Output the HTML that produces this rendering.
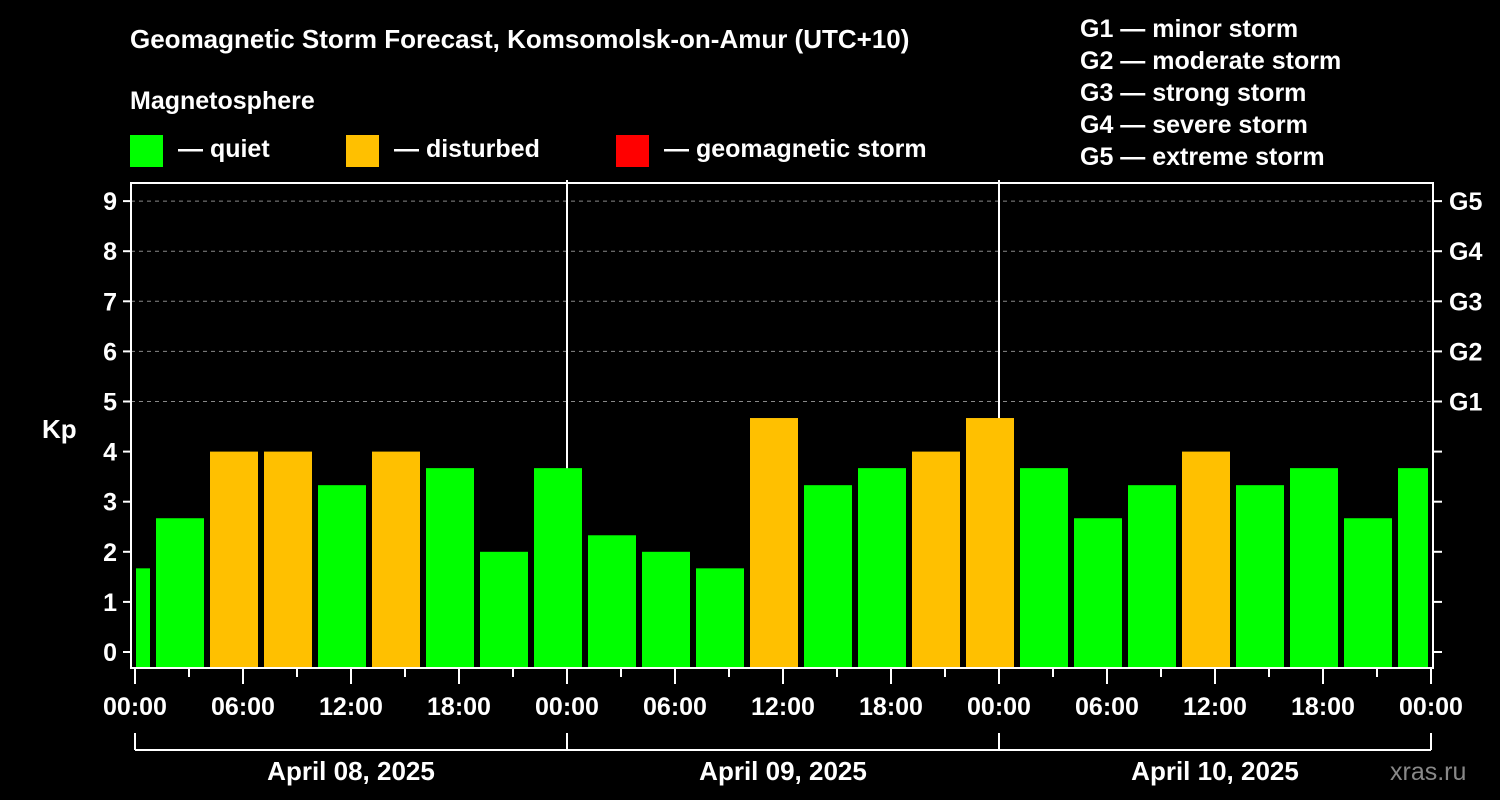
<!DOCTYPE html>
<html><head><meta charset="utf-8"><style>
html,body{margin:0;padding:0;background:#000;}
svg{display:block;font-family:"Liberation Sans",Arial,sans-serif;font-weight:bold;}
</style></head><body>
<svg id="chart" width="1500" height="800" viewBox="0 0 1500 800" xmlns="http://www.w3.org/2000/svg">
<rect width="1500" height="800" fill="#000"/>
<text x="130" y="48" fill="#fff" font-size="26">Geomagnetic Storm Forecast, Komsomolsk-on-Amur (UTC+10)</text>
<text x="130" y="109" fill="#fff" font-size="25">Magnetosphere</text>
<g><rect x="130" y="135" width="33" height="32" fill="#00ff00"/><text x="178" y="157" fill="#fff" font-size="25">— quiet</text></g>
<g><rect x="346" y="135" width="33" height="32" fill="#ffc000"/><text x="394" y="157" fill="#fff" font-size="25">— disturbed</text></g>
<g><rect x="616" y="135" width="33" height="32" fill="#ff0000"/><text x="664" y="157" fill="#fff" font-size="25">— geomagnetic storm</text></g>
<g fill="#fff" font-size="25">
<text x="1080" y="37">G1 — minor storm</text>
<text x="1080" y="69">G2 — moderate storm</text>
<text x="1080" y="101">G3 — strong storm</text>
<text x="1080" y="133">G4 — severe storm</text>
<text x="1080" y="165">G5 — extreme storm</text>
</g>
<text x="42" y="438" fill="#fff" font-size="26">Kp</text>
<text x="1390" y="780" fill="#888" font-size="25" font-weight="normal">xras.ru</text>
<g id="grid"></g><g id="bars"></g><g id="axes"></g>
</svg>
<script>
const kpValues = [1.67,2.67,4,4,3.33,4,3.67,2,3.67, 2.33,2,1.67,4.67,3.33,3.67,4,4.67, 3.67,2.67,3.33,4,3.33,3.67,2.67,3.67];
const kpStatus = ['q','q','d','d','q','d','q','q','q', 'q','q','q','d','q','q','d','d', 'q','q','q','d','q','q','q','q'];
const hourTickLabels = ['00:00','06:00','12:00','18:00'];
const dayLabels = ['April 08, 2025','April 09, 2025','April 10, 2025'];
const yTicks = [0,1,2,3,4,5,6,7,8,9];
const gLabels = ['G1','G2','G3','G4','G5'];

const NS='http://www.w3.org/2000/svg';
const PL=131, PR=1433, PT=183, PB=668;
const x = h => 135 + h*18;
const y = v => 652 - v*50.1;
const colors = {q:'#00ff00', d:'#ffc000', s:'#ff0000'};
function mk(tag, attrs, parent){const e=document.createElementNS(NS,tag);for(const k in attrs)e.setAttribute(k,attrs[k]);parent.appendChild(e);return e;}
const grid=document.getElementById('grid'), bars=document.getElementById('bars'), axes=document.getElementById('axes');

// gridlines at G levels
for(let v=5; v<=9; v++){
  const l=mk('line',{x1:PL,x2:PR,y1:y(v),y2:y(v),stroke:'#888','stroke-width':1,'stroke-dasharray':'4,4'},grid);
  
  
}
// day separators
for(let d=1; d<3; d++){
  const l=mk('line',{x1:x(d*24),x2:x(d*24),y1:PT-3,y2:PB,stroke:'#fff','stroke-width':2},grid);
  
  
}
// bars
kpValues.forEach((v,i)=>{
  const c = -0.5 + 3*i;
  let x0 = x(c) - 24, x1 = x(c) + 24;
  x0 = Math.max(x0, x(0)+1); x1 = Math.min(x1, x(72)-3);
  const r=mk('rect',{x:x0,y:y(v),width:x1-x0,height:PB-1-y(v),fill:colors[kpStatus[i]]},bars);
  
  
});
// frame
const f=mk('rect',{x:PL,y:PT,width:PR-PL,height:PB-PT,fill:'none',stroke:'#fff','stroke-width':2},axes);


// y ticks
yTicks.forEach(v=>{
  mk('line',{x1:PL-8,x2:PL,y1:y(v),y2:y(v),stroke:'#fff','stroke-width':2},axes);
  mk('line',{x1:PR,x2:PR+9,y1:y(v),y2:y(v),stroke:'#fff','stroke-width':2},axes);
  const t=mk('text',{x:PL-14,y:y(v)+9,fill:'#fff','font-size':25,'text-anchor':'end'},axes);
  t.textContent=v;
  
  
});
gLabels.forEach((g,i)=>{
  const t=mk('text',{x:PR+16,y:y(5+i)+9,fill:'#fff','font-size':25},axes);
  t.textContent=g;
  
  
});
// x ticks
for(let h=0; h<=72; h+=3){
  const major = h%6===0;
  mk('line',{x1:x(h),x2:x(h),y1:PB,y2:PB+(major?16:9),stroke:'#fff','stroke-width':2},axes);
  if(major){
    const t=mk('text',{x:x(h),y:715,fill:'#fff','font-size':25,'text-anchor':'middle'},axes);
    t.textContent=hourTickLabels[(h/6)%4];
    
    
  }
}
// day bracket
mk('line',{x1:x(0),x2:x(72),y1:750,y2:750,stroke:'#fff','stroke-width':2},axes);
for(let d=0; d<=3; d++) mk('line',{x1:x(d*24),x2:x(d*24),y1:733,y2:750,stroke:'#fff','stroke-width':2},axes);
dayLabels.forEach((s,d)=>{
  const t=mk('text',{x:x(d*24+12),y:780,fill:'#fff','font-size':26,'text-anchor':'middle'},axes);
  t.textContent=s;
  
  
});
</script>
</body></html>
